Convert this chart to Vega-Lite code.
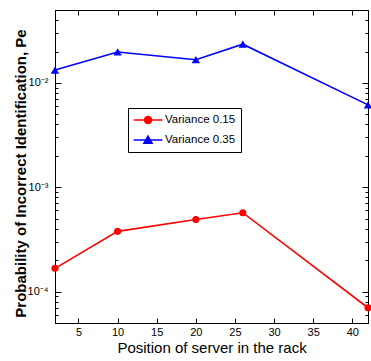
{
  "$schema": "https://vega.github.io/schema/vega-lite/v6.json",
  "width": 313,
  "height": 313,
  "autosize": "none",
  "padding": {"left": 55, "top": 10, "right": 3, "bottom": 38},
  "background": "white",
  "config": {
    "view": {"stroke": "black", "strokeWidth": 1},
    "axis": {
      "grid": false,
      "domainColor": "black",
      "tickColor": "black",
      "labelColor": "black",
      "titleColor": "black",
      "labelFont": "Liberation Sans",
      "titleFont": "Liberation Sans",
      "labelFontSize": 11,
      "labelFontWeight": "normal",
      "titleFontWeight": "normal"
    }
  },
  "data": {
    "values": [
      {"series": "Variance 0.15", "position": 2, "pe": 0.000167},
      {"series": "Variance 0.15", "position": 10, "pe": 0.000378},
      {"series": "Variance 0.15", "position": 20, "pe": 0.00049},
      {"series": "Variance 0.15", "position": 26, "pe": 0.00057},
      {"series": "Variance 0.15", "position": 42, "pe": 0.00007},
      {"series": "Variance 0.35", "position": 2, "pe": 0.0133},
      {"series": "Variance 0.35", "position": 10, "pe": 0.0198},
      {"series": "Variance 0.35", "position": 20, "pe": 0.0167},
      {"series": "Variance 0.35", "position": 26, "pe": 0.0235},
      {"series": "Variance 0.35", "position": 42, "pe": 0.00616}
    ]
  },
  "layer": [
    {
      "mark": {"type": "line", "strokeWidth": 1.6},
      "encoding": {
        "x": {
          "field": "position", "type": "quantitative",
          "scale": {"domain": [2, 42], "nice": false, "zero": false},
          "axis": {
            "orient": "bottom",
            "values": [5, 10, 15, 20, 25, 30, 35, 40],
            "tickSize": -5,
            "labelPadding": 8,
            "title": "Position of server  in the rack",
            "titleFontSize": 15,
            "titlePadding": 3
          }
        },
        "y": {
          "field": "pe", "type": "quantitative",
          "scale": {"type": "log", "domain": [0.00005, 0.05], "nice": false},
          "axis": {
            "orient": "left",
            "values": [0.00005, 0.00006, 0.00007, 0.00008, 0.00009, 0.0001, 0.0002, 0.0003, 0.0004, 0.0005, 0.0006, 0.0007, 0.0008, 0.0009, 0.001, 0.002, 0.003, 0.004, 0.005, 0.006, 0.007, 0.008, 0.009, 0.01, 0.02, 0.03, 0.04, 0.05],
            "labelExpr": "abs(log(datum.value)/LN10 - round(log(datum.value)/LN10)) < 0.001 ? (round(log(datum.value)/LN10) == -2 ? '10⁻²' : round(log(datum.value)/LN10) == -3 ? '10⁻³' : '10⁻⁴') : ''",
            "tickSize": {"condition": {"test": "abs(log(datum.value)/LN10 - round(log(datum.value)/LN10)) < 0.001", "value": -6}, "value": -3},
            "labelPadding": 13,
            "title": "Probability of Incorrect  Identification, Pe",
            "titleFontSize": 15,
            "titleFontWeight": "bold",
            "titleX": -27,
            "titleY": 163
          }
        },
        "color": {
          "field": "series", "type": "nominal",
          "scale": {"domain": ["Variance 0.15", "Variance 0.35"], "range": ["#ff0000", "#0000ff"]},
          "legend": {
            "orient": "none",
            "legendX": 73,
            "legendY": 98,
            "title": null,
            "padding": 5,
            "strokeColor": "black",
            "fillColor": "white",
            "labelFont": "Liberation Sans",
            "labelFontSize": 11.5,
            "labelColor": "black",
            "symbolSize": 144,
            "symbolStrokeWidth": 1.5,
            "symbolOffset": 8,
            "labelOffset": 10,
            "rowPadding": 6,
            "encode": {
              "symbols": {
                "update": {
                  "shape": {"signal": "datum.value === 'Variance 0.15' ? 'M-2.4,0L2.4,0M-0.58,0A0.58,0.58,0,1,1,0.58,0A0.58,0.58,0,1,1,-0.58,0Z' : 'M-2.4,0L2.4,0M0,-0.65L0.68,0.55L-0.68,0.55Z'"},
                  "fill": {"signal": "datum.value === 'Variance 0.15' ? '#ff0000' : '#0000ff'"},
                  "stroke": {"signal": "datum.value === 'Variance 0.15' ? '#ff0000' : '#0000ff'"},
                  "opacity": {"value": 1}
                }
              }
            }
          }
        }
      }
    },
    {
      "transform": [{"filter": "datum.series === 'Variance 0.15'"}],
      "mark": {"type": "point", "filled": true, "opacity": 1, "size": 50, "shape": "circle"},
      "encoding": {
        "x": {
          "field": "position", "type": "quantitative",
          "scale": {"domain": [2, 42], "nice": false, "zero": false},
          "axis": {
            "orient": "top",
            "values": [5, 10, 15, 20, 25, 30, 35, 40],
            "tickSize": -5,
            "labels": false,
            "title": null
          }
        },
        "y": {
          "field": "pe", "type": "quantitative",
          "scale": {"type": "log", "domain": [0.00005, 0.05], "nice": false},
          "axis": {
            "orient": "right",
            "values": [0.00005, 0.00006, 0.00007, 0.00008, 0.00009, 0.0001, 0.0002, 0.0003, 0.0004, 0.0005, 0.0006, 0.0007, 0.0008, 0.0009, 0.001, 0.002, 0.003, 0.004, 0.005, 0.006, 0.007, 0.008, 0.009, 0.01, 0.02, 0.03, 0.04, 0.05],
            "tickSize": {"condition": {"test": "abs(log(datum.value)/LN10 - round(log(datum.value)/LN10)) < 0.001", "value": -6}, "value": -3},
            "labels": false,
            "title": null
          }
        },
        "color": {
          "field": "series", "type": "nominal",
          "scale": {"domain": ["Variance 0.15", "Variance 0.35"], "range": ["#ff0000", "#0000ff"]},
          "legend": null
        }
      }
    },
    {
      "transform": [{"filter": "datum.series === 'Variance 0.35'"}],
      "mark": {"type": "point", "filled": true, "opacity": 1, "size": 70, "shape": "triangle-up"},
      "encoding": {
        "x": {
          "field": "position", "type": "quantitative",
          "scale": {"domain": [2, 42], "nice": false, "zero": false},
          "axis": null
        },
        "y": {
          "field": "pe", "type": "quantitative",
          "scale": {"type": "log", "domain": [0.00005, 0.05], "nice": false},
          "axis": null
        },
        "color": {
          "field": "series", "type": "nominal",
          "scale": {"domain": ["Variance 0.15", "Variance 0.35"], "range": ["#ff0000", "#0000ff"]},
          "legend": null
        }
      }
    }
  ],
  "resolve": {"axis": {"x": "independent", "y": "independent"}}
}
